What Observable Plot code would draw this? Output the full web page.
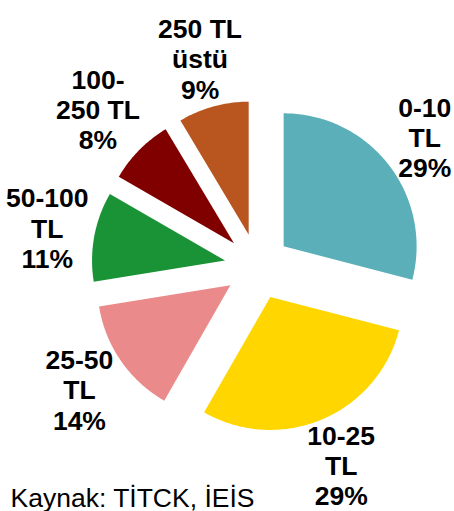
<!DOCTYPE html>
<html><head><meta charset="utf-8">
<script src="https://cdn.jsdelivr.net/npm/d3@7"></script>
<script src="https://cdn.jsdelivr.net/npm/@observablehq/plot@0.6"></script>
<style>body{margin:0;background:#fff;overflow:hidden}</style>
</head><body><div id="chart"></div>
<script>
// ---- data ----
const categories = ["0-10 TL", "10-25 TL", "25-50 TL", "50-100 TL", "100-250 TL", "250 TL üstü"];
const labelNames = ["0-10\nTL", "10-25\nTL", "25-50\nTL", "50-100\nTL", "100-\n250 TL", "250 TL\nüstü"];
const shares = [29.1, 29.3, 14.2, 10.9, 8.1, 8.6];
const percentLabels = ["29%", "29%", "14%", "11%", "8%", "9%"];
const colors = ["#5AAFB9", "#FFD600", "#EB8A8A", "#1A9337", "#800000", "#B9561F"];
const sourceNote = "Kaynak: TİTCK, İEİS";

// ---- layout ----
const W = 454, H = 511;
const cx = 257, cy = 266;      // pie centre in pixels
const R = 133, explode = 33;   // radius and explosion distance
const fontFam = "'Liberation Sans', Arial, Helvetica, sans-serif";
const labelSize = 26.5, lineH = 30.3;

const arcs = d3.pie().sort(null).value(d => d)(shares);

// slice outlines in a pixel-unit coordinate system centred on the pie (y up)
const slicePts = [];
arcs.forEach((a, i) => {
  const mid = (a.startAngle + a.endAngle) / 2;
  const ox = explode * Math.sin(mid), oy = explode * Math.cos(mid);
  slicePts.push({cat: categories[i], x: ox, y: oy});
  const n = Math.max(8, Math.ceil((a.endAngle - a.startAngle) * 60));
  for (let k = 0; k <= n; k++) {
    const t = a.startAngle + (a.endAngle - a.startAngle) * k / n;
    slicePts.push({cat: categories[i], x: ox + R * Math.sin(t), y: oy + R * Math.cos(t)});
  }
  slicePts.push({cat: categories[i], x: ox, y: oy});
});

// labels placed just outside each exploded slice, box touching the outer radius
const ctx = document.createElement("canvas").getContext("2d");
ctx.font = `bold ${labelSize}px ${fontFam}`;
const labels = arcs.map((a, i) => {
  const text = labelNames[i] + "\n" + percentLabels[i];
  const lines = text.split("\n");
  const w = d3.max(lines, l => ctx.measureText(l).width);
  const h = (lines.length - 1) * lineH + labelSize * 0.72;
  const mid = (a.startAngle + a.endAngle) / 2;
  const ux = Math.sin(mid), uy = Math.cos(mid);
  const ext = Math.abs(ux) * w / 2 + Math.abs(uy) * h / 2;
  const d = R + explode + ext;
  let x = ux * d;
  x = Math.max(-cx + w / 2, Math.min(W - cx - w / 2, x));
  return {text, x, y: uy * d};
});

const chart = Plot.plot({
  width: W, height: H,
  margin: 0,
  x: {domain: [-cx, W - cx], axis: null},
  y: {domain: [-(H - cy), cy], axis: null},
  color: {domain: categories, range: colors},
  style: {fontFamily: fontFam, background: "#fff", overflow: "visible"},
  marks: [
    Plot.line(slicePts, {x: "x", y: "y", z: "cat", fill: "cat", stroke: "none", curve: "linear"}),
    Plot.text(labels, {x: "x", y: "y", text: "text", fontSize: labelSize, fontWeight: "bold",
      lineHeight: lineH / labelSize, textAnchor: "middle", lineAnchor: "middle", fill: "#000"}),
    Plot.text([sourceNote], {frameAnchor: "bottom-left", text: d => d, dx: 10, dy: -5,
      textAnchor: "start", lineAnchor: "bottom", fontSize: 26.5, fill: "#000"})
  ]
});
document.getElementById("chart").append(chart);
</script>
</body></html>
